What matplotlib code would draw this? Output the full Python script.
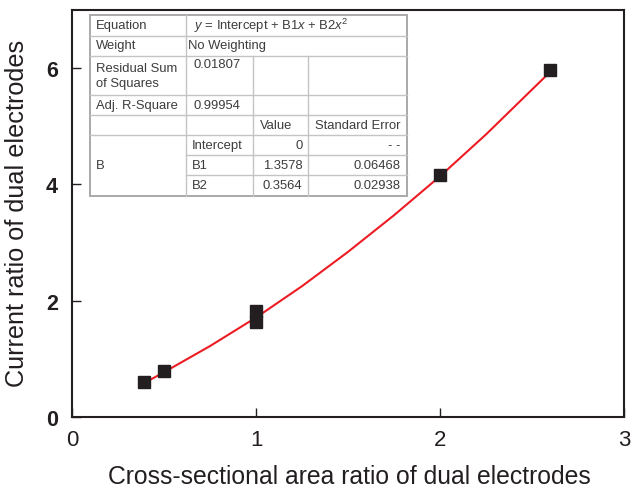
import numpy as np
import matplotlib
matplotlib.use('Agg')
import matplotlib.pyplot as plt

plt.rcParams['font.family'] = ['Liberation Sans', 'DejaVu Sans']
plt.rcParams['mathtext.fontset'] = 'custom'
plt.rcParams['mathtext.rm'] = 'Liberation Sans'
plt.rcParams['mathtext.it'] = 'Liberation Sans:italic'

# measured points
area_ratio = [0.39, 0.5, 1.0, 1.0, 2.0, 2.6]
current_ratio = [0.60, 0.79, 1.83, 1.63, 4.16, 5.97]

# fitted curve (polynomial fit, vertices)
fit_x = [0.39, 0.5, 0.75, 1.0, 1.25, 1.5, 1.75, 2.0, 2.25, 2.6]
fit_y = [0.58, 0.77, 1.22, 1.71, 2.25, 2.84, 3.47, 4.14, 4.86, 5.94]

# fit report table
row_labels = ['Equation', 'Weight', 'Residual Sum\nof Squares', 'Adj. R-Square']
row_values = [r'$y$ = Intercept + B1$x$ + B2$x^2$', 'No Weighting', '0.01807', '0.99954']
param_names = ['Intercept', 'B1', 'B2']
param_values = ['0', '1.3578', '0.3564']
param_errors = ['- -', '0.06468', '0.02938']

W, H = 632, 489
fig = plt.figure(figsize=(W / 100, H / 100), dpi=100)
ax = fig.add_axes([72 / W, (H - 418) / H, 552 / W, 407 / H])

ink = '#231f20'
ax.plot(fit_x, fit_y, color='#ec1c24', lw=1.5, zorder=2)
ax.plot(area_ratio, current_ratio, 's', color=ink, ms=8, zorder=3)

ax.set_xlim(0, 3)
ax.set_ylim(0, 7)
ax.set_xticks([0, 1, 2, 3])
ax.set_yticks([0, 2, 4, 6])
for s in ax.spines.values():
    s.set_linewidth(1.5)
    s.set_color(ink)
ax.tick_params(direction='in', length=6.5, width=1.0, color=ink)
ax.tick_params(axis='x', labelsize=16, pad=9, labelcolor=ink)
ax.tick_params(axis='y', labelsize=15.5, pad=10, labelcolor=ink)
for t in ax.get_yticklabels():
    t.set_fontweight('bold')

fig.text(349 / W, 1 - 477 / H, 'Cross-sectional area ratio of dual electrodes',
         ha='center', va='center', fontsize=17.8, color=ink)
fig.text(17.5 / W, 1 - 213 / H, 'Current ratio of dual electrodes',
         ha='center', va='center', rotation=90, fontsize=18.2, color=ink)

# table drawn in image pixel coordinates
tab = fig.add_axes([0, 0, 1, 1])
tab.set_xlim(0, W)
tab.set_ylim(H, 0)
tab.axis('off')

cols = [89.7, 186, 253.3, 308.3, 406.7]
rows = [16, 36.5, 56.5, 96, 115.5, 136, 156, 176, 196.5]
grid = '#c4c4c4'
txt = '#3c3c3c'
fs = 9.4

tab.add_patch(plt.Rectangle((cols[0], rows[0]), cols[-1] - cols[0], rows[-1] - rows[0],
                            facecolor='white', edgecolor='#a9a9a9', lw=1.4, zorder=1))
# horizontal lines
for i, r in enumerate(rows[1:-1], start=1):
    x0 = cols[1] if i in (6, 7) else cols[0]
    tab.plot([x0, cols[-1]], [r, r], color=grid, lw=1.0, zorder=2)
# vertical lines
tab.plot([cols[1], cols[1]], [rows[0], rows[-1]], color=grid, lw=1.0, zorder=2)
for c in cols[2:4]:
    tab.plot([c, c], [rows[2], rows[-1]], color=grid, lw=1.0, zorder=2)

pad = 6
for i, (lab, val) in enumerate(zip(row_labels, row_values)):
    if i == 2:
        tab.text(cols[0] + pad, rows[i] + 6, lab, ha='left', va='top', fontsize=fs,
                 color=txt, linespacing=1.4)
        tab.text(cols[1] + 8, rows[i] + 3, val, ha='left', va='top', fontsize=fs, color=txt)
    else:
        yc = (rows[i] + rows[i + 1]) / 2
        tab.text(cols[0] + pad, yc, lab, ha='left', va='center', fontsize=fs, color=txt)
        xv = cols[1] + 2 if i == 1 else cols[1] + 8
        tab.text(xv, yc, val, ha='left', va='center', fontsize=fs, color=txt)

yc = (rows[4] + rows[5]) / 2
tab.text(276, yc, 'Value', ha='center', va='center', fontsize=fs, color=txt)
tab.text(cols[4] - pad, yc, 'Standard Error', ha='right', va='center', fontsize=fs, color=txt)

tab.text(cols[0] + pad, (rows[5] + rows[8]) / 2, 'B', ha='left', va='center',
         fontsize=fs, color=txt)
for k, (n, v, e) in enumerate(zip(param_names, param_values, param_errors)):
    yc = (rows[5 + k] + rows[6 + k]) / 2
    tab.text(cols[1] + 6, yc, n, ha='left', va='center', fontsize=fs, color=txt)
    tab.text(cols[3] - pad, yc, v, ha='right', va='center', fontsize=fs, color=txt)
    tab.text(cols[4] - pad, yc, e, ha='right', va='center', fontsize=fs, color=txt)

fig.savefig('out.png', dpi=100)
